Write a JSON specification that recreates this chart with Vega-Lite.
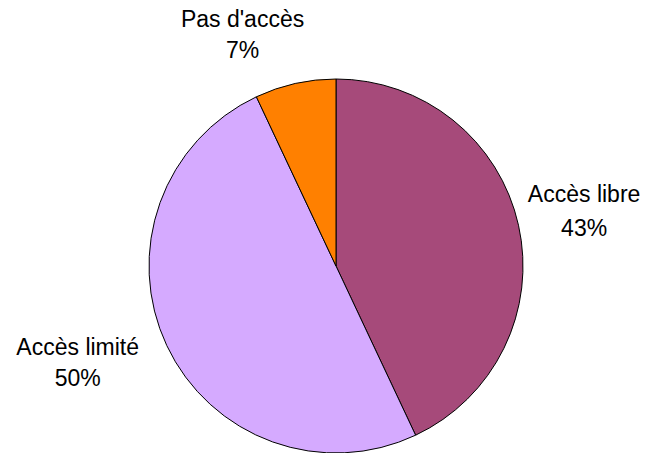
{
  "$schema": "https://vega.github.io/schema/vega-lite/v6.json",
  "width": 374,
  "height": 374,
  "autosize": "none",
  "padding": {"left": 149, "top": 79, "right": 125, "bottom": 0},
  "background": "white",
  "config": {"view": {"stroke": null}},
  "data": {
    "values": [
      {"categorie": "Accès libre", "part": 43, "rang": 1, "label": "Accès libre\n43%"},
      {"categorie": "Accès limité", "part": 50, "rang": 2, "label": "Accès limité\n50%"},
      {"categorie": "Pas d'accès", "part": 7, "rang": 3, "label": "Pas d'accès\n7%"}
    ]
  },
  "encoding": {
    "theta": {"field": "part", "type": "quantitative", "stack": true},
    "order": {"field": "rang", "type": "quantitative"}
  },
  "layer": [
    {
      "mark": {"type": "arc", "outerRadius": 187, "stroke": "black", "strokeWidth": 1},
      "encoding": {
        "color": {
          "field": "categorie",
          "type": "nominal",
          "scale": {"domain": ["Accès libre", "Accès limité", "Pas d'accès"], "range": ["#A64A7A", "#D5AAFF", "#FF8000"]},
          "legend": null
        }
      }
    },
    {
      "mark": {"type": "text", "radius": 245, "dx": 9, "dy": -18, "font": "Liberation Sans", "fontSize": 23, "lineBreak": "\n", "lineHeight": 34, "color": "black"},
      "encoding": {"text": {"condition": {"test": "datum.rang == 1", "field": "label"}, "value": ""}}
    },
    {
      "mark": {"type": "text", "radius": 270, "dx": -14, "dy": -33, "font": "Liberation Sans", "fontSize": 23, "lineBreak": "\n", "lineHeight": 31, "color": "black"},
      "encoding": {"text": {"condition": {"test": "datum.rang == 2", "field": "label"}, "value": ""}}
    },
    {
      "mark": {"type": "text", "radius": 245, "dx": -40, "dy": -7, "font": "Liberation Sans", "fontSize": 23, "lineBreak": "\n", "lineHeight": 31, "color": "black"},
      "encoding": {"text": {"condition": {"test": "datum.rang == 3", "field": "label"}, "value": ""}}
    }
  ]
}
